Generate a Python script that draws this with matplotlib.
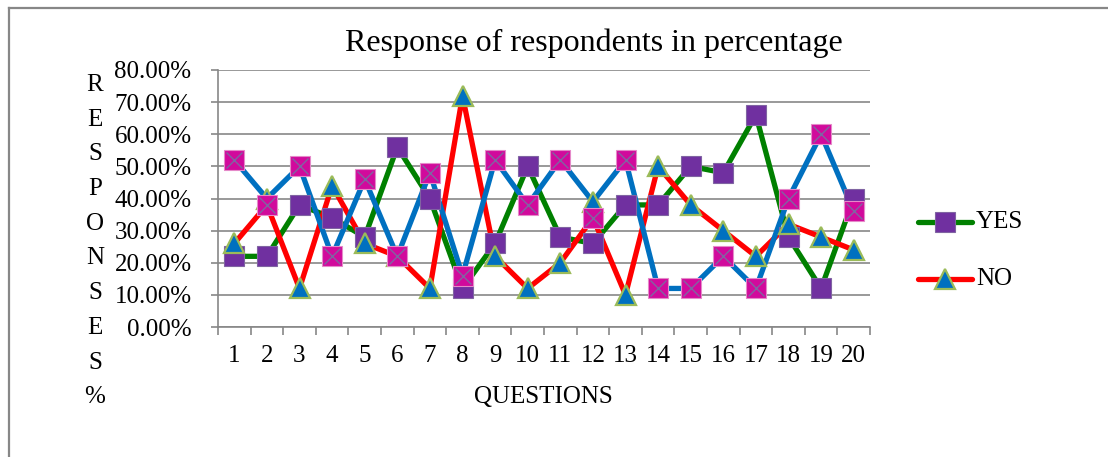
import matplotlib
matplotlib.use("Agg")
import matplotlib.pyplot as plt
from matplotlib.ticker import FuncFormatter, FixedLocator
from matplotlib.lines import Line2D

questions = list(range(1, 21))
yes = [22, 22, 38, 34, 28, 56, 40, 12, 26, 50, 28, 26, 38, 38, 50, 48, 66, 28, 12, 40]
no = [26, 40, 12, 44, 26, 22, 12, 72, 22, 12, 20, 39, 10, 50, 38, 30, 22, 32, 28, 24]
neutral = [52, 38, 50, 22, 46, 22, 48, 16, 52, 38, 52, 34, 52, 12, 12, 22, 12, 40, 60, 36]
# line paths as drawn in the reference (lines cross over at Q2 and Q12)
no_line = [26, 38, 12, 44, 26, 22, 12, 72, 22, 12, 20, 34, 10, 50, 38, 30, 22, 32, 28, 24]
neutral_line = [52, 40, 50, 22, 46, 22, 48, 16, 52, 38, 52, 39, 52, 12, 12, 22, 12, 40, 60, 36]
yticks = [0, 10, 20, 30, 40, 50, 60, 70, 80]

SERIF = ['Liberation Serif', 'DejaVu Serif']
FS = 18
W, H = 1108, 457
fig = plt.figure(figsize=(W / 100, H / 100), dpi=100)
fig.patch.set_facecolor('white')

# chart border (top and left visible)
fig.add_artist(Line2D([9 / W, 1.0], [1 - 8 / H, 1 - 8 / H], color='#878787', lw=1.6))
fig.add_artist(Line2D([9 / W, 9 / W], [0, 1 - 8 / H], color='#878787', lw=1.6))

L, R, T, B = 218, 870, 70, 327
ax = fig.add_axes([L / W, 1 - B / H, (R - L) / W, (B - T) / H])
ax.set_xlim(0.5, 20.5)
ax.set_ylim(0, 80)

grid_c = '#878787'
for v in yticks:
    ax.axhline(v, color=grid_c, lw=1.2, zorder=1)

for s in ['top', 'right']:
    ax.spines[s].set_visible(False)
for s in ['left', 'bottom']:
    ax.spines[s].set_color(grid_c)
    ax.spines[s].set_linewidth(1.2)

ax.yaxis.set_major_locator(FixedLocator(yticks))
ax.yaxis.set_major_formatter(FuncFormatter(lambda v, p: f"{v:.2f}%"))
ax.tick_params(axis='y', length=5, width=1.2, color=grid_c, pad=14, labelsize=FS)
ax.set_xticks([i + 0.5 for i in range(0, 21)])
ax.set_xticklabels([])
ax.set_xticks(questions, minor=True)
ax.set_xticklabels([str(q) for q in questions], minor=True)
ax.tick_params(axis='x', which='major', length=6, width=1.2, color=grid_c)
ax.tick_params(axis='x', which='minor', length=0, pad=13, labelsize=FS)
for lab in ax.get_yticklabels() + ax.get_xticklabels(minor=True):
    lab.set_family(SERIF)

lw = 3.8
ax.plot(questions, yes, color='#008000', lw=lw, solid_capstyle='round', zorder=3)
ax.plot(questions, no_line, color='#FF0000', lw=lw, solid_capstyle='round', zorder=3)
ax.plot(questions, neutral_line, color='#0070C0', lw=lw, solid_capstyle='round', zorder=3)

ax.plot(questions, yes, ls='none', marker='s', ms=14, mfc='#7030A0', mec='#8064A2', mew=0.8, zorder=4)
ax.plot(questions, no, ls='none', marker='^', ms=15, mfc='#0070C0', mec='#9BBB59', mew=1.6, zorder=5)
ax.plot(questions, neutral, ls='none', marker='s', ms=14, mfc='#D10A9C', mec='#E58AC9', mew=0.8, zorder=6)
ax.plot(questions, neutral, ls='none', marker='x', ms=12, mec='#8064A2', mew=1.0, zorder=7)

fig.text(594 / W, 1 - 43 / H, 'Response of respondents in percentage', ha='center', va='center',
         fontsize=23, family=SERIF)
fig.text(543 / W, 1 - 397 / H, 'QUESTIONS', ha='center', va='center', fontsize=FS, family=SERIF)

ylabel = 'RESPONSES%'
for i, ch in enumerate(ylabel):
    fig.text(95 / W, 1 - (85 + i * 34.7) / H, ch, ha='center', va='center', fontsize=FS, family=SERIF)

# legend
legend_items = [('YES', 222, '#008000', 's', '#7030A0', '#8064A2'),
                ('NO', 279, '#FF0000', '^', '#0070C0', '#9BBB59')]
for label, yy, lc, mk, mfc, mec in legend_items:
    yf = 1 - yy / H
    fig.add_artist(Line2D([918 / W, 972 / W], [yf, yf], color=lc, lw=lw, solid_capstyle='round'))
    fig.add_artist(Line2D([945 / W], [yf], ls='none', marker=mk, ms=14, mfc=mfc, mec=mec,
                          mew=1.6 if mk == '^' else 0.8))
    fig.text(976 / W, yf, label, ha='left', va='center', fontsize=FS, family=SERIF)

fig.savefig('out.png', dpi=100, facecolor='white')
